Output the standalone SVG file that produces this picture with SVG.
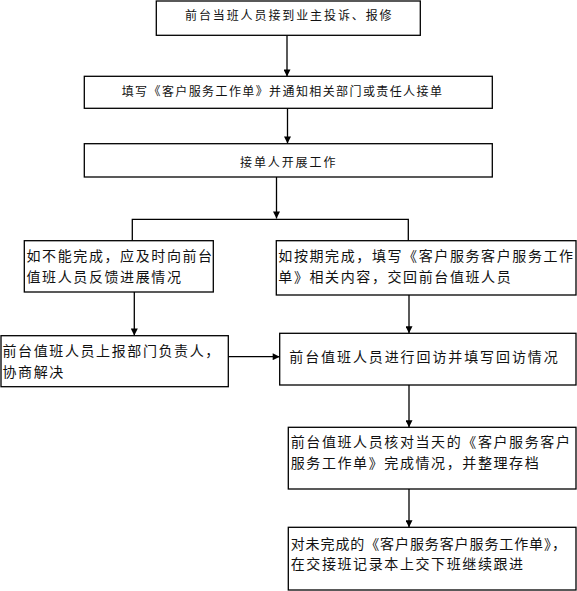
<svg xmlns="http://www.w3.org/2000/svg" width="577" height="591" viewBox="0 0 577 591">
<style>
.box{fill:#fff;stroke:#000;stroke-width:1.3}
.t12{font-family:"Noto Sans CJK SC","Liberation Sans",sans-serif;font-size:12px;fill:#111}
.t14{font-family:"Noto Sans CJK SC","Liberation Sans",sans-serif;font-size:14px;fill:#111;letter-spacing:1.6px}
.ln{fill:none;stroke:#000;stroke-width:1.3}
</style>
<defs>
<marker id="arr" markerUnits="userSpaceOnUse" viewBox="0 0 10 10" refX="10" refY="5" markerWidth="9" markerHeight="7" orient="auto">
<path d="M0,0 L10,5 L0,10 z" fill="#000"/>
</marker>
</defs>
<rect width="577" height="591" fill="#fff"/>
<g id="connectors">
<line class="ln" x1="287" y1="35.3" x2="287" y2="76.5" marker-end="url(#arr)"/>
<line class="ln" x1="287.5" y1="108.3" x2="287.5" y2="143.5" marker-end="url(#arr)"/>
<line class="ln" x1="276.5" y1="177" x2="276.5" y2="218.5" marker-end="url(#arr)"/>
<polyline class="ln" points="132.3,240.7 132.3,219.3 408.3,219.3 408.3,240.7"/>
<line class="ln" x1="134.3" y1="292" x2="134.3" y2="335.5" marker-end="url(#arr)"/>
<line class="ln" x1="409" y1="295" x2="409" y2="333.3" marker-end="url(#arr)"/>
<line class="ln" x1="228.3" y1="356.7" x2="279.7" y2="356.7" marker-end="url(#arr)"/>
<line class="ln" x1="409" y1="385" x2="409" y2="427.3" marker-end="url(#arr)"/>
<line class="ln" x1="409" y1="489" x2="409" y2="527.3" marker-end="url(#arr)"/>
</g>
<g id="n1">
<rect class="box" x="156.3" y="1" width="264" height="34.3"/>
<text class="t12" x="185" y="19.6" style="letter-spacing:1.9px">前台当班人员接到业主投诉、报修</text>
</g>
<g id="n2">
<rect class="box" x="84.3" y="76.3" width="408" height="32"/>
<text class="t12" x="121.7" y="95.6" style="letter-spacing:1.4px">填写《客户服务工作单》并通知相关部门或责任人接单</text>
</g>
<g id="n3">
<rect class="box" x="84.3" y="143.7" width="408" height="33.3"/>
<text class="t12" x="240" y="166.6" style="letter-spacing:1.9px">接单人开展工作</text>
</g>
<g id="n4">
<rect class="box" x="24.3" y="240.7" width="189" height="51.3"/>
<text class="t14" x="26.5" y="261">如不能完成，应及时向前台</text>
<text class="t14" x="26.5" y="282">值班人员反馈进展情况</text>
</g>
<g id="n5">
<rect class="box" x="276.3" y="240.7" width="299.7" height="54.3"/>
<text class="t14" x="278.3" y="261">如按期完成，填写《客户服务客户服务工作</text>
<text class="t14" x="278.3" y="282">单》相关内容，交回前台值班人员</text>
</g>
<g id="n6">
<rect class="box" x="1" y="335.7" width="227.3" height="51"/>
<text class="t14" x="2.5" y="356">前台值班人员上报部门负责人，</text>
<text class="t14" x="2.5" y="377">协商解决</text>
</g>
<g id="n7">
<rect class="box" x="279.7" y="333.3" width="296.3" height="51.7"/>
<text class="t14" x="289.3" y="362" style="letter-spacing:1.9px">前台值班人员进行回访并填写回访情况</text>
</g>
<g id="n8">
<rect class="box" x="288.3" y="427.3" width="287.7" height="61.7"/>
<text class="t14" x="290.7" y="447">前台值班人员核对当天的《客户服务客户</text>
<text class="t14" x="290.7" y="468">服务工作单》完成情况，并整理存档</text>
</g>
<g id="n9">
<rect class="box" x="288.3" y="527.3" width="287.7" height="62.7"/>
<text class="t14" x="290.7" y="548.6" style="letter-spacing:0.9px">对未完成的《客户服务客户服务工作单》，</text>
<text class="t14" x="290.7" y="569">在交接班记录本上交下班继续跟进</text>
</g>
</svg>
